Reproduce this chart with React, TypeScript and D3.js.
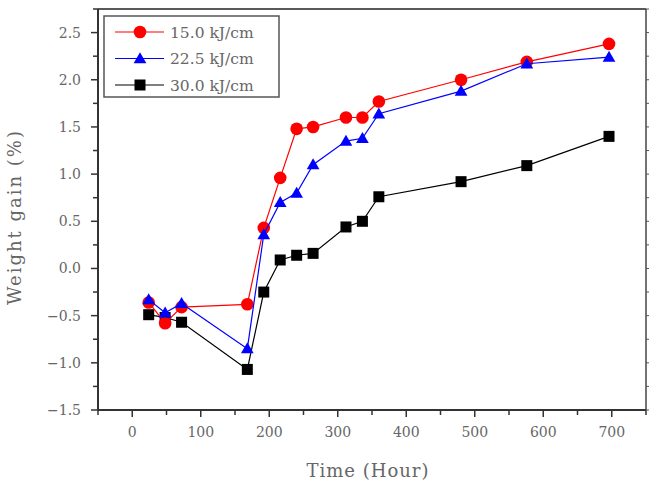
import React from "react";
import * as d3 from "d3";

const times = [24, 48, 72, 168, 192, 216, 240, 264, 312, 336, 360, 480, 576, 696];
const s15 = [-0.36, -0.58, -0.41, -0.38, 0.43, 0.96, 1.48, 1.50, 1.60, 1.60, 1.77, 2.00, 2.19, 2.38];
const s225 = [-0.33, -0.47, -0.37, -0.85, 0.36, 0.70, 0.80, 1.10, 1.35, 1.38, 1.64, 1.88, 2.17, 2.24];
const s30 = [-0.49, -0.52, -0.57, -1.07, -0.25, 0.09, 0.14, 0.16, 0.44, 0.50, 0.76, 0.92, 1.09, 1.40];
const seriesNames = ["15.0 kJ/cm", "22.5 kJ/cm", "30.0 kJ/cm"];
const xTicks = [0, 100, 200, 300, 400, 500, 600, 700];
const yTicks = [-1.5, -1.0, -0.5, 0.0, 0.5, 1.0, 1.5, 2.0, 2.5];

const W = 651, H = 481;
const L = 98, R = 646, T = 9, B = 410;
const font = "'DejaVu Serif', serif";
const grey = "#666";

export default function App() {
  const x = d3.scaleLinear().domain([-50, 750]).range([L, R]);
  const y = d3.scaleLinear().domain([-1.5, 2.75]).range([B, T]);
  const line = d3.line<number>().x((_, i) => x(times[i])).y((v) => y(v));

  const series = [
    { name: seriesNames[2], vals: s30, color: "#000000", shape: "square" },
    { name: seriesNames[0], vals: s15, color: "#ff0000", shape: "circle" },
    { name: seriesNames[1], vals: s225, color: "#0000ff", shape: "triangle" },
  ];

  const marker = (shape: string, cx: number, cy: number, color: string, key: any) => {
    if (shape === "circle") return <circle key={key} cx={cx} cy={cy} r={6.3} fill={color} />;
    if (shape === "square") return <rect key={key} x={cx - 5.5} y={cy - 5.5} width={11} height={11} fill={color} />;
    const sym = d3.symbol().type(d3.symbolTriangle).size(70)();
    return <path key={key} d={sym || ""} transform={`translate(${cx},${cy + 1})`} fill={color} />;
  };

  const xMinor = d3.range(-50, 751, 50).filter((v) => v % 100 !== 0);
  const yMinor = d3.range(-1.25, 2.76, 0.5);
  const yRight = d3.range(-1.5, 2.76, 0.25);

  const legendItems = [
    { name: seriesNames[0], color: "#ff0000", shape: "circle" },
    { name: seriesNames[1], color: "#0000ff", shape: "triangle" },
    { name: seriesNames[2], color: "#000000", shape: "square" },
  ];

  return (
    <svg width={W} height={H} style={{ position: "absolute", left: 0, top: 0, background: "#fff" }}>
      <rect x={0} y={0} width={W} height={H} fill="#fff" />
      {/* frame */}
      <line x1={L} y1={T} x2={R} y2={T} stroke="#222" strokeWidth={1.5} />
      <line x1={R} y1={T} x2={R} y2={B} stroke="#444" strokeWidth={1.5} />
      <line x1={L} y1={T} x2={L} y2={B} stroke="#333" strokeWidth={2} />
      <line x1={L} y1={B} x2={R} y2={B} stroke="#333" strokeWidth={2} />
      {/* x ticks */}
      {xTicks.map((t) => (
        <g key={"xt" + t}>
          <line x1={x(t)} x2={x(t)} y1={B} y2={B + 7} stroke="#333" strokeWidth={1.5} />
          <text x={x(t)} y={437} textAnchor="middle" fontFamily={font} fontSize={14} fill={grey}>
            {t}
          </text>
        </g>
      ))}
      {xMinor.map((t) => (
        <line key={"xm" + t} x1={x(t)} x2={x(t)} y1={B} y2={B + 5} stroke="#333" strokeWidth={1.5} />
      ))}
      {/* y ticks */}
      {yTicks.map((t) => (
        <g key={"yt" + t}>
          <line x1={L - 7} x2={L} y1={y(t)} y2={y(t)} stroke="#333" strokeWidth={1.5} />
          <text x={81} y={y(t) + 5} textAnchor="end" fontFamily={font} fontSize={14} fill={grey}>
            {d3.format(".1f")(t).replace("-", "\u2212")}
          </text>
        </g>
      ))}
      {yMinor.map((t) => (
        <line key={"ym" + t} x1={L - 5} x2={L} y1={y(t)} y2={y(t)} stroke="#333" strokeWidth={1.5} />
      ))}
      {yRight.map((t) => (
        <line key={"yr" + t} x1={R} x2={R + 3} y1={y(t)} y2={y(t)} stroke="#555" strokeWidth={1} />
      ))}
      {/* series */}
      {series.map((s) => (
        <g key={s.name}>
          <path d={line(s.vals) || ""} fill="none" stroke={s.color} strokeWidth={1.2} />
          {s.vals.map((v, i) => marker(s.shape, x(times[i]), y(v), s.color, i))}
        </g>
      ))}
      {/* legend */}
      <rect x={104} y={16} width={175} height={81} fill="#fff" stroke="#555" strokeWidth={1.5} />
      {legendItems.map((it, i) => {
        const ly = 32 + i * 26.5;
        return (
          <g key={it.name}>
            <line x1={115} x2={164} y1={ly} y2={ly} stroke={it.color} strokeWidth={1.2} />
            {marker(it.shape, 140, ly, it.color, "m")}
            <text x={170} y={ly + 5.5} fontFamily={font} fontSize={15.5} fill={grey}>
              {it.name}
            </text>
          </g>
        );
      })}
      {/* axis titles */}
      <text
        transform={`translate(21,${217}) rotate(-90)`}
        textAnchor="middle"
        fontFamily={font}
        fontSize={18}
        fill={grey}
        letterSpacing={2}
      >
        Weight gain (%)
      </text>
      <text x={368} y={477} textAnchor="middle" fontFamily={font} fontSize={18} fill={grey} letterSpacing={1}>
        Time (Hour)
      </text>
    </svg>
  );
}
